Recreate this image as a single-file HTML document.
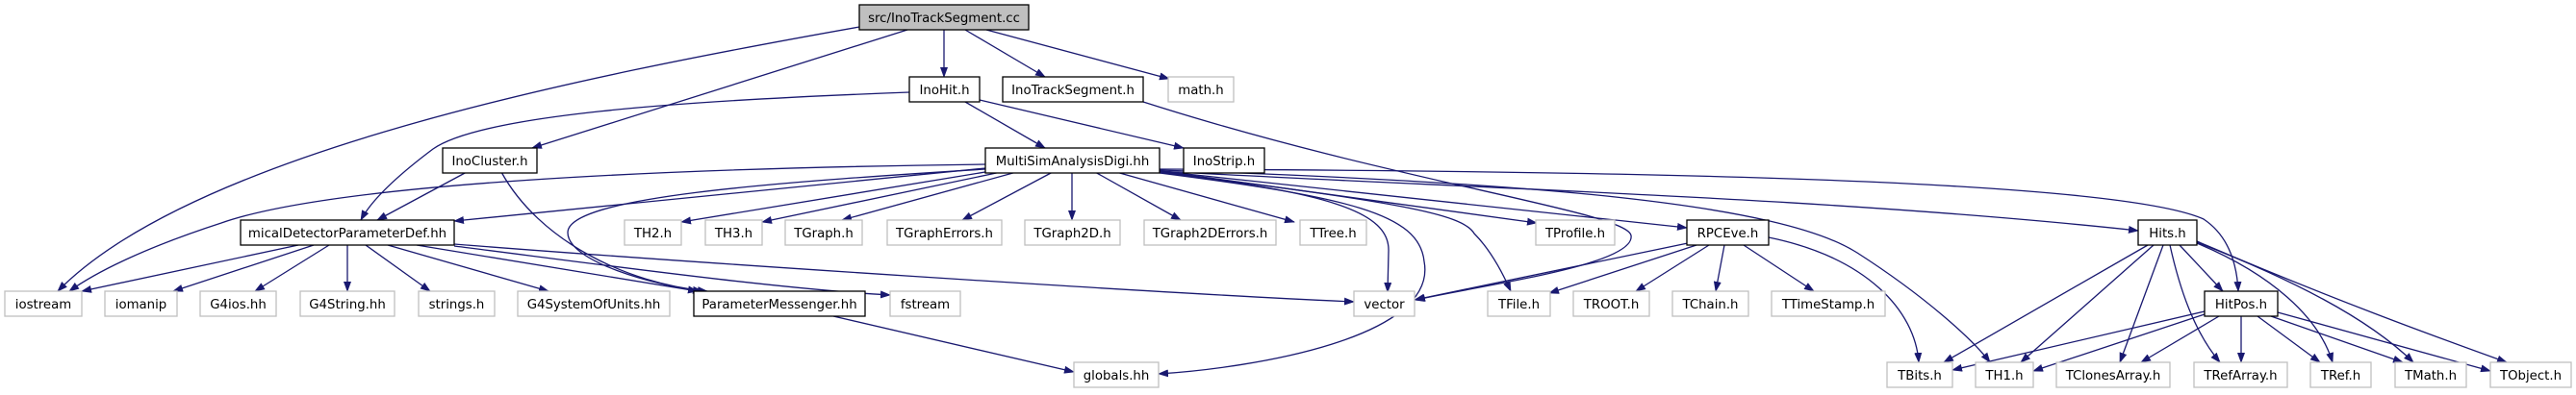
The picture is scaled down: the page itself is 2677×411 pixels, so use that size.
<!DOCTYPE html>
<html><head><meta charset="utf-8"><style>
html,body{margin:0;padding:0;background:#fff;}
svg{display:block;}
text{font-family:"DejaVu Sans","Liberation Sans",sans-serif;font-size:13.3px;fill:#000;text-anchor:middle;}
.e{fill:none;stroke:#191970;stroke-width:1.3;marker-end:url(#a);}
.b{fill:#fff;stroke:#000;stroke-width:1.3;}
.g{fill:#fff;stroke:#bfbfbf;stroke-width:1.3;}
</style></head><body>
<svg width="2677" height="411" viewBox="0 0 2677 411" xmlns="http://www.w3.org/2000/svg">
<defs><marker id="a" markerUnits="userSpaceOnUse" markerWidth="11" markerHeight="8" refX="10" refY="4" orient="auto"><path d="M0,0 L11,4 L0,8 z" fill="#191970"/></marker></defs>

<!-- edges -->
<path class="e" d="M893,28 C600,80 200,160 60,303"/>
<path class="e" d="M943,31 L553,154"/>
<path class="e" d="M981,31 L981,80"/>
<path class="e" d="M1003,31 L1086,80"/>
<path class="e" d="M1025,31 L1215,82"/>
<path class="e" d="M945,96 C700,105 500,120 450,155 C410,185 385,210 375,229"/>
<path class="e" d="M1003,106 L1086,154"/>
<path class="e" d="M1018,104 L1230,154"/>
<path class="e" d="M1188,106 C1450,190 1690,220 1695,245 C1700,275 1550,295 1471,312"/>
<path class="e" d="M485,179 L392,229"/>
<path class="e" d="M521,179 C560,250 650,295 735,303"/>
<path class="e" d="M310,255 L85,303"/>
<path class="e" d="M326,255 L180,303"/>
<path class="e" d="M342,255 L265,303"/>
<path class="e" d="M361,255 L361,303"/>
<path class="e" d="M380,255 L447,303"/>
<path class="e" d="M403,255 L570,303"/>
<path class="e" d="M433,255 L725,303"/>
<path class="e" d="M472,256 C600,272 800,300 925,307"/>
<path class="e" d="M472,254 C700,272 1200,305 1407,314"/>
<path class="e" d="M1024,171 C700,175 350,190 230,232 C150,258 100,283 72,303"/>
<path class="e" d="M1024,175 L472,230"/>
<path class="e" d="M1024,176 C800,190 590,205 590,242 C590,272 680,297 730,303"/>
<path class="e" d="M1030,178 L708,231"/>
<path class="e" d="M1045,178 L792,231"/>
<path class="e" d="M1060,178 L875,229"/>
<path class="e" d="M1094,179 L1000,229"/>
<path class="e" d="M1114,179 L1114,229"/>
<path class="e" d="M1138,179 L1227,229"/>
<path class="e" d="M1160,179 L1345,231"/>
<path class="e" d="M1200,179 C1380,200 1445,220 1443,262 L1442,304"/>
<path class="e" d="M1205,180 C1400,205 1475,222 1480,272 C1495,352 1300,383 1204,389"/>
<path class="e" d="M1205,179 C1450,210 1520,222 1532,243 C1552,263 1565,292 1570,303"/>
<path class="e" d="M1205,178 L1597,232"/>
<path class="e" d="M1205,178 L1753,237"/>
<path class="e" d="M1205,178 C1500,195 1900,205 2222,240"/>
<path class="e" d="M1205,176 C1700,178 2200,187 2290,228 C2320,248 2325,283 2326,303"/>
<path class="e" d="M1205,177 C1600,190 1850,212 1930,263 C2000,308 2050,353 2068,377"/>
<path class="e" d="M1754,253 L1470,312"/>
<path class="e" d="M1763,255 L1610,305"/>
<path class="e" d="M1776,255 L1700,303"/>
<path class="e" d="M1792,255 L1783,303"/>
<path class="e" d="M1812,255 L1885,303"/>
<path class="e" d="M1838,247 C1940,268 1990,323 1994,377"/>
<path class="e" d="M2232,255 L2020,377"/>
<path class="e" d="M2238,255 L2100,377"/>
<path class="e" d="M2248,255 L2203,377"/>
<path class="e" d="M2255,255 C2265,300 2280,345 2307,377"/>
<path class="e" d="M2265,255 L2310,303"/>
<path class="e" d="M2283,253 C2360,285 2410,330 2424,377"/>
<path class="e" d="M2283,252 C2380,290 2460,330 2508,377"/>
<path class="e" d="M2283,251 C2420,310 2530,350 2605,377"/>
<path class="e" d="M2291,324 L2029,385"/>
<path class="e" d="M2291,327 L2113,386"/>
<path class="e" d="M2306,329 L2225,377"/>
<path class="e" d="M2329,329 L2329,377"/>
<path class="e" d="M2346,329 L2411,377"/>
<path class="e" d="M2360,329 L2497,377"/>
<path class="e" d="M2367,325 L2588,386"/>
<path class="e" d="M866,329 L1116,387"/>

<!-- nodes -->
<rect x="893" y="5" width="176" height="26" fill="#bfbfbf" stroke="#000" stroke-width="1.3"/><text x="981" y="23">src/InoTrackSegment.cc</text>
<rect class="b" x="945" y="80" width="73" height="26"/><text x="981.5" y="98">InoHit.h</text>
<rect class="b" x="1042" y="80" width="146" height="26"/><text x="1115" y="98">InoTrackSegment.h</text>
<rect class="g" x="1214" y="80" width="68" height="26"/><text x="1248" y="98">math.h</text>
<rect class="b" x="460" y="154" width="98" height="26"/><text x="509" y="172">InoCluster.h</text>
<rect class="b" x="1024" y="154" width="181" height="26"/><text x="1114.5" y="172">MultiSimAnalysisDigi.hh</text>
<rect class="b" x="1230" y="154" width="84" height="26"/><text x="1272" y="172">InoStrip.h</text>

<rect class="b" x="250" y="229" width="222" height="26"/><text x="361" y="247">micalDetectorParameterDef.hh</text>
<rect class="g" x="649" y="229" width="59" height="26"/><text x="678.5" y="247">TH2.h</text>
<rect class="g" x="733" y="229" width="59" height="26"/><text x="762.5" y="247">TH3.h</text>
<rect class="g" x="816" y="229" width="80" height="26"/><text x="856" y="247">TGraph.h</text>
<rect class="g" x="922" y="229" width="119" height="26"/><text x="981.5" y="247">TGraphErrors.h</text>
<rect class="g" x="1065" y="229" width="99" height="26"/><text x="1114.5" y="247">TGraph2D.h</text>
<rect class="g" x="1189" y="229" width="137" height="26"/><text x="1257.5" y="247">TGraph2DErrors.h</text>
<rect class="g" x="1351" y="229" width="69" height="26"/><text x="1385.5" y="247">TTree.h</text>
<rect class="g" x="1596" y="229" width="82" height="26"/><text x="1637" y="247">TProfile.h</text>
<rect class="b" x="1753" y="229" width="85" height="26"/><text x="1795.5" y="247">RPCEve.h</text>
<rect class="b" x="2222" y="229" width="61" height="26"/><text x="2252.5" y="247">Hits.h</text>

<rect class="g" x="5" y="303" width="80" height="26"/><text x="45" y="321">iostream</text>
<rect class="g" x="109" y="303" width="75" height="26"/><text x="146.5" y="321">iomanip</text>
<rect class="g" x="208" y="303" width="79" height="26"/><text x="247.5" y="321">G4ios.hh</text>
<rect class="g" x="312" y="303" width="98" height="26"/><text x="361" y="321">G4String.hh</text>
<rect class="g" x="435" y="303" width="79" height="26"/><text x="474.5" y="321">strings.h</text>
<rect class="g" x="538" y="303" width="158" height="26"/><text x="617" y="321">G4SystemOfUnits.hh</text>
<rect class="b" x="721" y="303" width="178" height="26"/><text x="810" y="321">ParameterMessenger.hh</text>
<rect class="g" x="925" y="303" width="73" height="26"/><text x="961.5" y="321">fstream</text>
<rect class="g" x="1407" y="303" width="63" height="26"/><text x="1438.5" y="321">vector</text>
<rect class="g" x="1546" y="303" width="65" height="26"/><text x="1578.5" y="321">TFile.h</text>
<rect class="g" x="1635" y="303" width="79" height="26"/><text x="1674.5" y="321">TROOT.h</text>
<rect class="g" x="1738" y="303" width="79" height="26"/><text x="1777.5" y="321">TChain.h</text>
<rect class="g" x="1841" y="303" width="118" height="26"/><text x="1900" y="321">TTimeStamp.h</text>
<rect class="b" x="2291" y="303" width="76" height="26"/><text x="2329" y="321">HitPos.h</text>

<rect class="g" x="1116" y="377" width="88" height="26"/><text x="1160" y="395">globals.hh</text>
<rect class="g" x="1961" y="377" width="68" height="26"/><text x="1995" y="395">TBits.h</text>
<rect class="g" x="2053" y="377" width="60" height="26"/><text x="2083" y="395">TH1.h</text>
<rect class="g" x="2137" y="377" width="118" height="26"/><text x="2196" y="395">TClonesArray.h</text>
<rect class="g" x="2280" y="377" width="97" height="26"/><text x="2328.5" y="395">TRefArray.h</text>
<rect class="g" x="2401" y="377" width="63" height="26"/><text x="2432.5" y="395">TRef.h</text>
<rect class="g" x="2489" y="377" width="74" height="26"/><text x="2526" y="395">TMath.h</text>
<rect class="g" x="2588" y="377" width="84" height="26"/><text x="2630" y="395">TObject.h</text>
</svg>
</body></html>
